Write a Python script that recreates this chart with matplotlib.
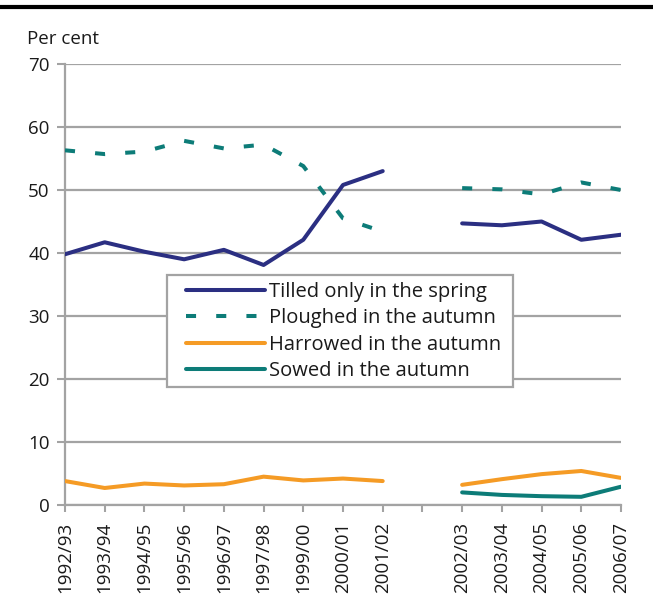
import numpy as np
import matplotlib
matplotlib.use("Agg")
import matplotlib.pyplot as plt
from matplotlib.lines import Line2D
from matplotlib.patches import Rectangle

plt.rcParams['font.family'] = ['Open Sans', 'DejaVu Sans']

years_left = ["1992/93", "1993/94", "1994/95", "1995/96", "1996/97", "1997/98",
              "1999/00", "2000/01", "2001/02"]
years_right = ["2002/03", "2003/04", "2004/05", "2005/06", "2006/07"]
tick_labels = years_left + [""] + years_right

tilled_left = [39.8, 41.7, 40.2, 39.0, 40.5, 38.1, 42.1, 50.8, 53.0]
tilled_right = [44.7, 44.4, 45.0, 42.1, 42.9]
ploughed_left = [56.3, 55.7, 56.1, 57.8, 56.6, 57.2, 53.8, 45.5, 43.4]
ploughed_right = [50.3, 50.1, 49.3, 51.2, 50.0]
harrowed_left = [3.8, 2.7, 3.4, 3.1, 3.3, 4.5, 3.9, 4.2, 3.8]
harrowed_right = [3.2, 4.1, 4.9, 5.4, 4.3]
sowed_right = [2.0, 1.6, 1.4, 1.3, 2.9]

labels = ["Tilled only in the spring", "Ploughed in the autumn",
          "Harrowed in the autumn", "Sowed in the autumn"]
c_navy = "#2b2f82"
c_teal = "#0d7c78"
c_orange = "#f59b25"
grid_c = "#a3a3a3"
txt_c = "#1a1a1a"

xl = np.arange(len(years_left))
xr = np.arange(len(years_right)) + len(years_left) + 1

W, H = 653, 610
fig = plt.figure(figsize=(W / 100, H / 100), dpi=100)
ax = fig.add_axes([65/W, 105/H, 556/W, 441/H])

lw = 2.9
dash = (0, (2.5, 5.0))
ax.plot(xl, tilled_left, color=c_navy, lw=lw, solid_capstyle='round', zorder=3)
ax.plot(xr, tilled_right, color=c_navy, lw=lw, solid_capstyle='round', zorder=3)
ax.plot(xl, ploughed_left, color=c_teal, lw=lw, linestyle=dash, zorder=3)
ax.plot(xr, ploughed_right, color=c_teal, lw=lw, linestyle=dash, zorder=3)
ax.plot(xl, harrowed_left, color=c_orange, lw=lw, solid_capstyle='round', zorder=3)
ax.plot(xr, harrowed_right, color=c_orange, lw=lw, solid_capstyle='round', zorder=3)
ax.plot(xr, sowed_right, color=c_teal, lw=lw, solid_capstyle='round', zorder=3)

ax.set_xlim(0, len(tick_labels) - 1)
ax.set_ylim(0, 70)
ax.set_yticks(np.arange(0, 71, 10))
ax.set_xticks(np.arange(len(tick_labels)))
ax.set_xticklabels(tick_labels, rotation=90, fontsize=13.5, color=txt_c)
ax.tick_params(axis='y', labelsize=13.5, labelcolor=txt_c, length=6, width=1.5,
               color=grid_c, pad=5)
ax.tick_params(axis='x', length=5, width=1.5, color=grid_c, pad=7)
ax.yaxis.grid(True, color=grid_c, lw=1.6)
ax.set_axisbelow(True)
for s in ["top", "right"]:
    ax.spines[s].set_visible(False)
for s in ["left", "bottom"]:
    ax.spines[s].set_color(grid_c)
    ax.spines[s].set_linewidth(1.6)

# legend box
box = Rectangle((167/W, 1 - 387/H), 346/W, 112/H, transform=fig.transFigure,
                facecolor="white", edgecolor=grid_c, lw=1.6, zorder=4)
fig.add_artist(box)

handles = [
    Line2D([], [], color=c_navy, lw=lw, solid_capstyle='round'),
    Line2D([], [], color=c_teal, lw=lw, linestyle=dash),
    Line2D([], [], color=c_orange, lw=lw, solid_capstyle='round'),
    Line2D([], [], color=c_teal, lw=lw, solid_capstyle='round'),
]
leg = fig.legend(handles, labels, loc='upper left',
                 bbox_to_anchor=(186/W, 1 - 282/H), bbox_transform=fig.transFigure,
                 borderaxespad=0, fontsize=14.5, handlelength=3.9, handletextpad=0.2,
                 labelspacing=0.32, frameon=False, borderpad=0)
leg.set_zorder(5)
for t in leg.get_texts():
    t.set_color(txt_c)

fig.text(27/W, 1 - 39/H, "Per cent", fontsize=13.5, color=txt_c, va='center', ha='left')
fig.add_artist(Line2D([0, 1], [1 - 7/H, 1 - 7/H], transform=fig.transFigure,
                      color="black", lw=3))

fig.savefig("out.png", dpi=100)
